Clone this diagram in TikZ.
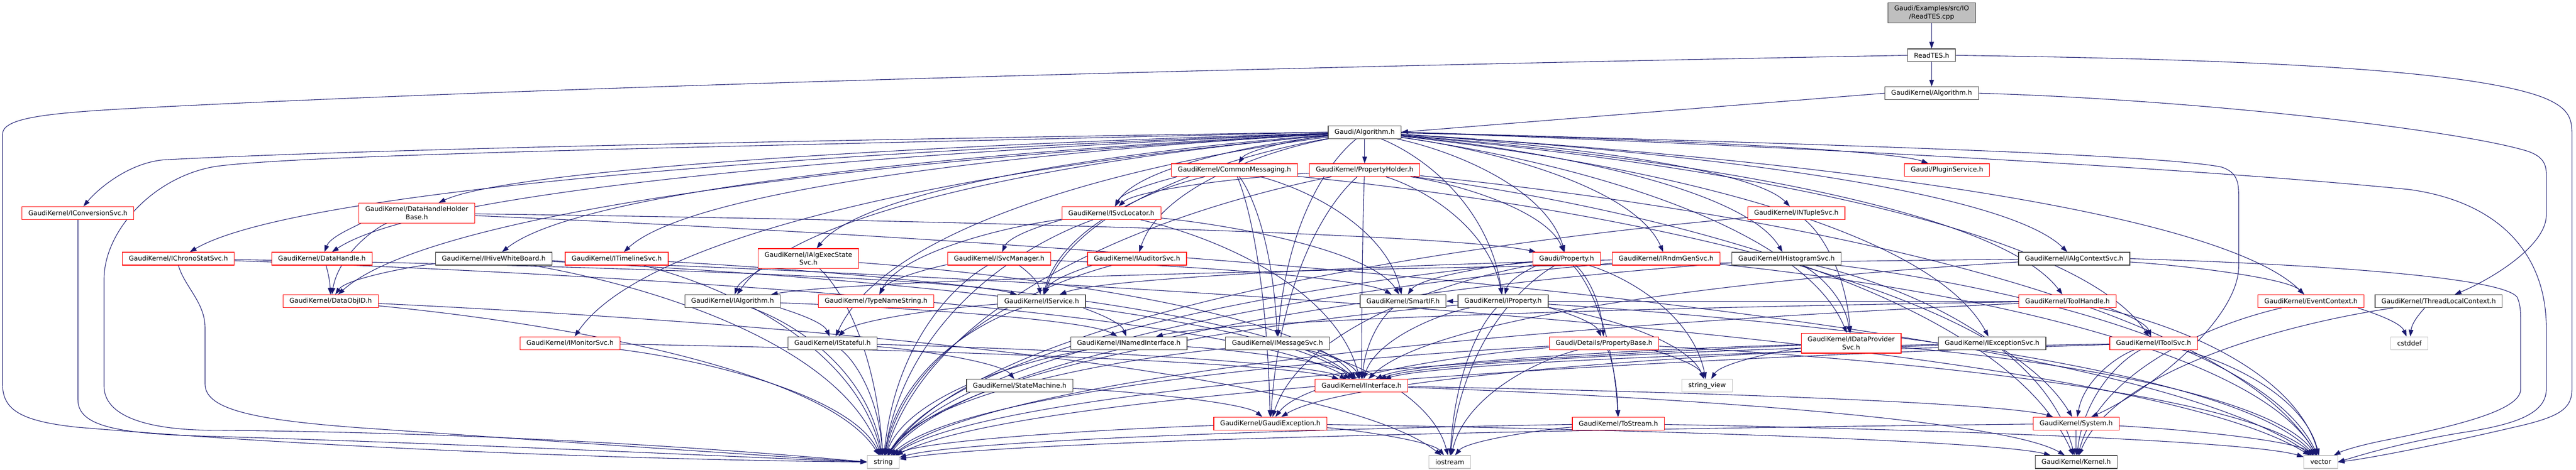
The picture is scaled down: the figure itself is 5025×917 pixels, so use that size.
\documentclass[tikz,border=0pt]{standalone}
\usepackage{fontspec}
\setmainfont{DejaVu Sans}
\usetikzlibrary{arrows.meta,calc,backgrounds}
\definecolor{edgec}{HTML}{191970}
\definecolor{redb}{HTML}{FF0000}
\definecolor{blkb}{HTML}{404040}
\definecolor{gryb}{HTML}{BFBFBF}
\tikzset{
  nd/.style={draw, fill=white, rectangle, minimum height=25pt, inner xsep=12.5pt, inner ysep=0pt,
    line width=1.2pt, font=\fontsize{12.85}{15.5}\selectfont, align=center},
  rn/.style={nd, draw=redb},
  bn/.style={nd, draw=blkb},
  gn/.style={nd, draw=gryb},
  twol/.style={minimum height=39pt},
  conn/.style={draw=edgec, line width=1.1pt, -{Triangle[length=13pt,width=9pt]}},
}
\newcommand\edg[2]{\draw[conn] let \p1=(#1.center), \p2=(#2.center) in (#1) .. controls ($(\p1)+({0.45*(\x2-\x1)},{0.15*(\y2-\y1)})$) and ($(\p2)+({-0.1*(\x2-\x1)},{-0.55*(\y2-\y1)})$) .. (#2);}
\begin{document}
\begin{tikzpicture}[x=1pt,y=-1pt]
\useasboundingbox (0,0) rectangle (5025,917);
% nodes
\node[nd, draw=blkb, fill=gryb, twol] (cpp) at (3768,25) {Gaudi/Examples/src/IO\\/ReadTES.cpp};
\node[bn] (rth) at (3768,108) {ReadTES.h};
\node[bn] (gka) at (3768,182) {GaudiKernel/Algorithm.h};
\node[bn] (ga) at (2662,258) {Gaudi/Algorithm.h};
\node[rn] (cm) at (2408,332) {GaudiKernel/CommonMessaging.h};
\node[rn] (ph) at (2662,332) {GaudiKernel/PropertyHolder.h};
\node[rn] (ps) at (3798,332) {Gaudi/PluginService.h};
\node[rn] (conv) at (152,416) {GaudiKernel/IConversionSvc.h};
\node[rn] (sl) at (2168,416) {GaudiKernel/ISvcLocator.h};
\node[rn] (nt) at (3504,416) {GaudiKernel/INTupleSvc.h};
\node[rn, twol] (dhh) at (813,416) {GaudiKernel/DataHandleHolder\\Base.h};
\node[rn] (chr) at (348,505) {GaudiKernel/IChronoStatSvc.h};
\node[rn] (dh) at (628,505) {GaudiKernel/DataHandle.h};
\node[bn] (hwb) at (963,505) {GaudiKernel/IHiveWhiteBoard.h};
\node[rn] (tl) at (1203,505) {GaudiKernel/ITimelineSvc.h};
\node[rn, twol] (aes) at (1577,505) {GaudiKernel/IAlgExecState\\Svc.h};
\node[rn] (sm) at (1949,505) {GaudiKernel/ISvcManager.h};
\node[rn] (aud) at (2218,505) {GaudiKernel/IAuditorSvc.h};
\node[rn] (prop) at (3056,505) {Gaudi/Property.h};
\node[rn] (rnd) at (3250,505) {GaudiKernel/IRndmGenSvc.h};
\node[bn] (hist) at (3485,505) {GaudiKernel/IHistogramSvc.h};
\node[bn] (acs) at (4046,505) {GaudiKernel/IAlgContextSvc.h};
\node[rn] (doi) at (645,588) {GaudiKernel/DataObjID.h};
\node[bn] (alg) at (1429,588) {GaudiKernel/IAlgorithm.h};
\node[rn] (tns) at (1709,588) {GaudiKernel/TypeNameString.h};
\node[bn] (svc) at (2032,588) {GaudiKernel/IService.h};
\node[bn] (sif) at (2737,588) {GaudiKernel/SmartIF.h};
\node[bn] (ip) at (2932,588) {GaudiKernel/IProperty.h};
\node[rn] (th) at (4033,588) {GaudiKernel/ToolHandle.h};
\node[rn] (ec) at (4508,588) {GaudiKernel/EventContext.h};
\node[bn] (tlc) at (4757,588) {GaudiKernel/ThreadLocalContext.h};
\node[rn] (mon) at (1112,670) {GaudiKernel/IMonitorSvc.h};
\node[bn] (stf) at (1624,670) {GaudiKernel/IStateful.h};
\node[bn] (ni) at (2202,670) {GaudiKernel/INamedInterface.h};
\node[bn] (msg) at (2492,670) {GaudiKernel/IMessageSvc.h};
\node[rn] (pb) at (3129,670) {Gaudi/Details/PropertyBase.h};
\node[rn, twol] (dps) at (3611,670) {GaudiKernel/IDataProvider\\Svc.h};
\node[bn] (exc) at (3886,670) {GaudiKernel/IExceptionSvc.h};
\node[rn] (ts) at (4201,670) {GaudiKernel/IToolSvc.h};
\node[gn] (cst) at (4700,670) {cstddef};
\node[bn] (smc) at (1989,753) {GaudiKernel/StateMachine.h};
\node[rn] (ii) at (2656,753) {GaudiKernel/IInterface.h};
\node[gn] (sv) at (3330,753) {string\_view};
\node[rn] (gex) at (2478,827) {GaudiKernel/GaudiException.h};
\node[rn] (tos) at (3157,827) {GaudiKernel/ToStream.h};
\node[rn] (sys) at (4050,827) {GaudiKernel/System.h};
\node[gn] (str) at (1723,902) {string};
\node[gn] (ios) at (2828,902) {iostream};
\node[bn] (ker) at (4050,902) {GaudiKernel/Kernel.h};
\node[gn] (vec) at (4527,902) {vector};
\begin{pgfonlayer}{background}
\fill[white] (0,0) rectangle (5025,917);
\draw[conn] (cpp) -- (rth);
\draw[conn] (rth) -- (gka);
\draw[conn] (gka.west) -- (ga.east);
% routed edges
\draw[conn] (rth.west) .. controls (2000,140) and (800,182) .. (233,213) .. controls (80,222) and (5,232) .. (5,262) -- (5,750) .. controls (5,800) and (40,822) .. (150,834) .. controls (700,880) and (1300,898) .. (str.west);
\draw[conn] (rth.east) .. controls (4300,115) and (4800,130) .. (4960,190) .. controls (5010,210) and (5017,230) .. (5017,260) -- (5017,760) .. controls (5017,800) and (4990,815) .. (4900,835) .. controls (4750,870) and (4620,895) .. (vec.east);
\draw[conn] (gka.east) .. controls (4300,195) and (4800,255) .. (4930,295) .. controls (4960,305) and (4967,320) .. (4967,340) -- (4967,420) .. controls (4967,480) and (4860,545) .. (tlc);
\draw[conn] (ga.east) .. controls (3500,285) and (4300,330) .. (4700,370) .. controls (4880,395) and (4967,500) .. (4967,640) -- (4967,760) .. controls (4967,810) and (4900,830) .. (4800,845) .. controls (4680,865) and (4600,890) .. (vec.east);
\draw[conn] (acs.east) .. controls (4500,515) and (4880,540) .. (4910,580) .. controls (4917,595) and (4917,610) .. (4917,630) -- (4917,760) .. controls (4917,800) and (4800,830) .. (4650,860) .. controls (4600,870) and (4570,880) .. (vec);
\draw[conn] (ga.east) .. controls (3500,280) and (4200,300) .. (4333,326) .. controls (4360,335) and (4367,350) .. (4367,380) -- (4367,520) .. controls (4367,620) and (4200,760) .. (sys);
\draw[conn] (ga.west) .. controls (1500,275) and (700,292) .. (320,312) .. controls (250,318) and (190,370) .. (conv);
\draw[conn] (conv.south) -- (152,780) .. controls (152,830) and (220,848) .. (420,852) .. controls (1000,870) and (1500,895) .. (str.west);
\draw[conn] (chr.south) .. controls (360,560) and (400,590) .. (400,640) -- (400,750) .. controls (400,800) and (500,820) .. (700,835) .. controls (1200,870) and (1500,890) .. (str.west);
\draw[conn] (ga.west) .. controls (1500,285) and (600,300) .. (420,325) .. controls (300,345) and (203,450) .. (203,545) -- (203,754) .. controls (203,810) and (280,840) .. (420,840) .. controls (1000,845) and (1450,880) .. (str.west);
% Gaudi/Algorithm.h
\edg{ga}{cm}\edg{ga}{ph}\edg{ga}{ps}\edg{ga}{sl}\edg{ga}{nt}\edg{ga}{dhh}\edg{ga}{chr}\edg{ga}{dh}
\edg{ga}{hwb}\edg{ga}{tl}\edg{ga}{aes}\edg{ga}{aud}\edg{ga}{prop}\edg{ga}{rnd}\edg{ga}{hist}\edg{ga}{acs}
\edg{ga}{doi}\edg{ga}{alg}\edg{ga}{svc}\edg{ga}{ip}\edg{ga}{th}\edg{ga}{ec}\edg{ga}{mon}\edg{ga}{stf}
\edg{ga}{msg}\edg{ga}{dps}\edg{ga}{exc}\edg{ga}{ts}
% others
\edg{cm}{sl}\edg{cm}{svc}\edg{cm}{msg}\edg{cm}{sif}\edg{cm}{gex}\edg{cm}{sys}
\edg{ph}{sl}\edg{ph}{prop}\edg{ph}{ip}\edg{ph}{ii}\edg{ph}{gex}\edg{ph}{str}\edg{ph}{vec}\edg{ph}{ker}
\edg{sl}{sm}\edg{sl}{tns}\edg{sl}{sif}\edg{sl}{ii}\edg{sl}{str}
\edg{nt}{dps}\edg{nt}{str}
\edg{dhh}{dh}\edg{dhh}{doi}\edg{dhh}{prop}\edg{dhh}{vec}
\edg{chr}{svc}\edg{chr}{ii}
\edg{dh}{doi}
\edg{doi}{str}\edg{doi}{ios}
\edg{hwb}{doi}\edg{hwb}{ii}\edg{hwb}{str}\edg{hwb}{vec}
\edg{tl}{ii}\edg{tl}{str}
\edg{aes}{alg}\edg{aes}{ii}\edg{aes}{str}
\edg{sm}{tns}\edg{sm}{svc}\edg{sm}{str}\edg{sm}{sif}
\edg{aud}{svc}\edg{aud}{str}
\edg{prop}{ip}\edg{prop}{pb}\edg{prop}{tos}\edg{prop}{sif}\edg{prop}{sv}\edg{prop}{gex}\edg{prop}{str}\edg{prop}{ios}
\edg{rnd}{svc}\edg{rnd}{str}\edg{rnd}{vec}
\edg{hist}{dps}\edg{hist}{str}\edg{hist}{vec}\edg{hist}{ker}
\edg{acs}{alg}\edg{acs}{ec}\edg{acs}{ii}
\edg{alg}{stf}\edg{alg}{ni}\edg{alg}{str}
\edg{svc}{ni}\edg{svc}{stf}\edg{svc}{str}
\edg{sif}{ii}
\edg{ip}{ii}\edg{ip}{pb}\edg{ip}{ios}\edg{ip}{str}\edg{ip}{sv}\edg{ip}{vec}
\edg{th}{ts}\edg{th}{ni}\edg{th}{sif}\edg{th}{str}\edg{th}{vec}
\edg{ec}{cst}\edg{ec}{ker}
\edg{tlc}{cst}\edg{tlc}{ker}
\edg{mon}{ii}\edg{mon}{str}
\edg{stf}{smc}\edg{stf}{ii}\edg{stf}{str}
\edg{ni}{ii}\edg{ni}{str}
\edg{msg}{ii}\edg{msg}{ios}\edg{msg}{str}
\edg{pb}{sv}\edg{pb}{tos}\edg{pb}{gex}\edg{pb}{str}\edg{pb}{ios}\edg{pb}{vec}
\edg{dps}{sv}\edg{dps}{ii}\edg{dps}{str}\edg{dps}{vec}
\edg{exc}{ii}\edg{exc}{gex}
\edg{ts}{sys}\edg{ts}{ker}\edg{ts}{ii}\edg{ts}{str}\edg{ts}{vec}
\edg{smc}{gex}
\edg{ii}{sys}\edg{ii}{ker}
\edg{gex}{ker}\edg{gex}{ios}\edg{gex}{str}
\edg{tos}{ios}\edg{tos}{str}\edg{tos}{vec}
\edg{sys}{ker}\edg{sys}{str}\edg{sys}{vec}
\end{pgfonlayer}
\end{tikzpicture}
\end{document}
